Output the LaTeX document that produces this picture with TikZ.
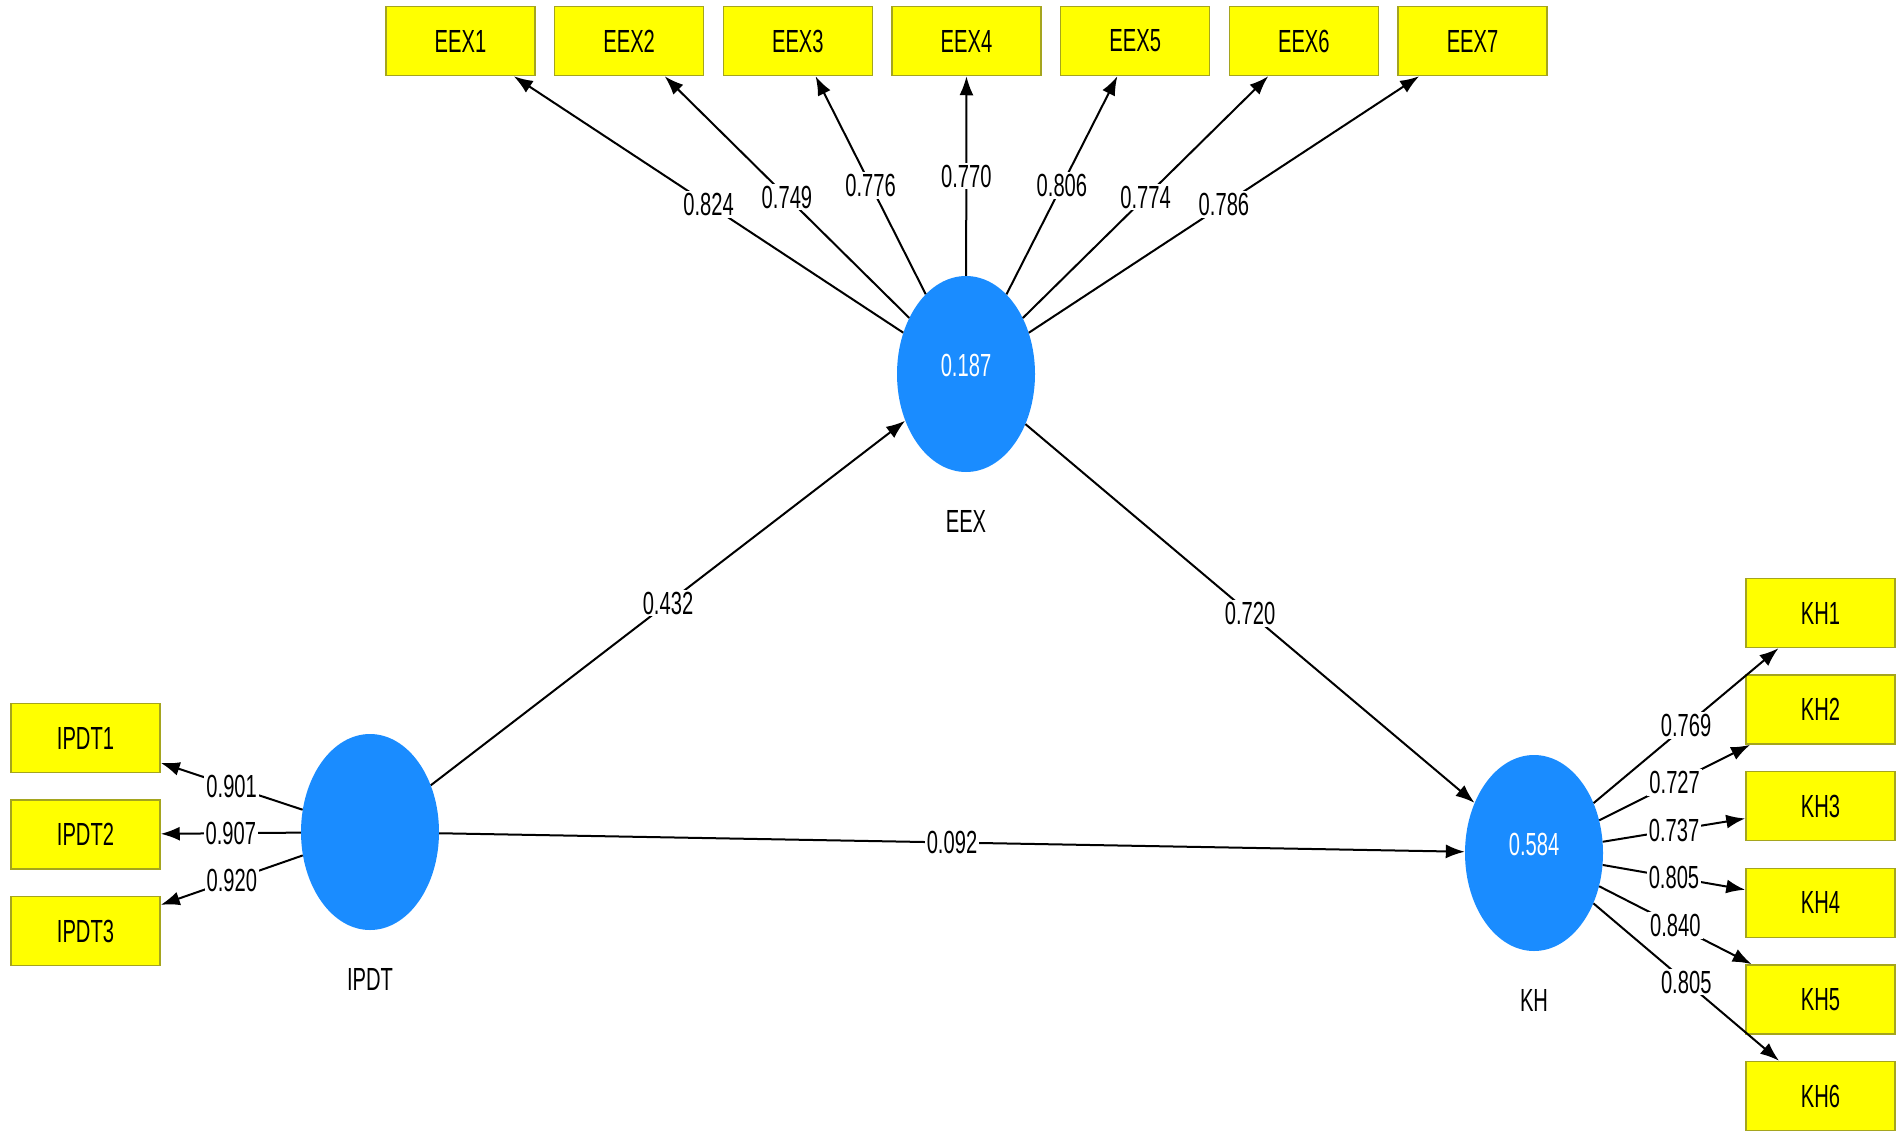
\documentclass[tikz,border=0pt]{standalone}
\usepackage{fontspec}
\setmainfont{Liberation Sans}[FakeStretch=0.63]
\usetikzlibrary{shapes,arrows.meta,backgrounds}

\definecolor{indyellow}{RGB}{255,255,0}
\definecolor{indborder}{RGB}{165,165,30}
\definecolor{latblue}{RGB}{26,140,255}

\tikzset{
  indicator/.style={draw=indborder, line width=1.5pt, fill=indyellow, minimum width=149pt, minimum height=69pt, inner sep=0pt},
  latent/.style={ellipse, fill=latblue, minimum width=138pt, minimum height=196pt, inner sep=0pt, text=white},
  coef/.style={midway, fill=white, inner sep=2pt}
}

\begin{document}
\begin{tikzpicture}[x=1pt, y=-1pt, font=\fontsize{32}{38}\selectfont,
    link/.style={-{Latex[length=19pt,width=14pt]}, line width=2pt}]
			\useasboundingbox (0,0) rectangle (1902,1137);
			% latent variables
			\node[latent, label={[label distance=35pt, text=black]below:EEX}] (eex) at (966,374) {\raisebox{18pt}{0.187}};
			\node[latent, label={[label distance=35pt, text=black]below:IPDT}] (ipdt) at (370,832) {};
			\node[latent, label={[label distance=35pt, text=black]below:KH}] (kh) at (1534,853) {\raisebox{18pt}{0.584}};
			% indicators
			\foreach \i in {1,...,7}
				\node[indicator] (eex\i) at ({460.5+168.67*(\i-1)},41) {EEX\i};
			\foreach \i in {1,2,3}
				\node[indicator] (ipdt\i) at (85.5,{738+96.5*(\i-1)}) {IPDT\i};
			\foreach \i in {1,...,6}
				\node[indicator] (kh\i) at (1820.5,{613+96.6*(\i-1)}) {KH\i};
			% outer loadings
			\foreach \i/\v in {1/0.824,2/0.749,3/0.776,4/0.770,5/0.806,6/0.774,7/0.786}
				\draw[link] (eex) -- node[coef] {\v} (eex\i);
			\foreach \i/\v in {1/0.901,2/0.907,3/0.920}
				\draw[link] (ipdt) -- node[coef] {\v} (ipdt\i);
			\foreach \i/\v in {1/0.769,2/0.727,3/0.737,4/0.805,5/0.840,6/0.805}
				\draw[link] (kh) -- node[coef] {\v} (kh\i);
			% path coefficients
			\draw[link] (ipdt) -- node[coef] {0.432} (eex);
			\draw[link] (eex) -- node[coef] {0.720} (kh);
			\draw[link] (ipdt) -- node[coef] {0.092} (kh);
\end{tikzpicture}
\end{document}
